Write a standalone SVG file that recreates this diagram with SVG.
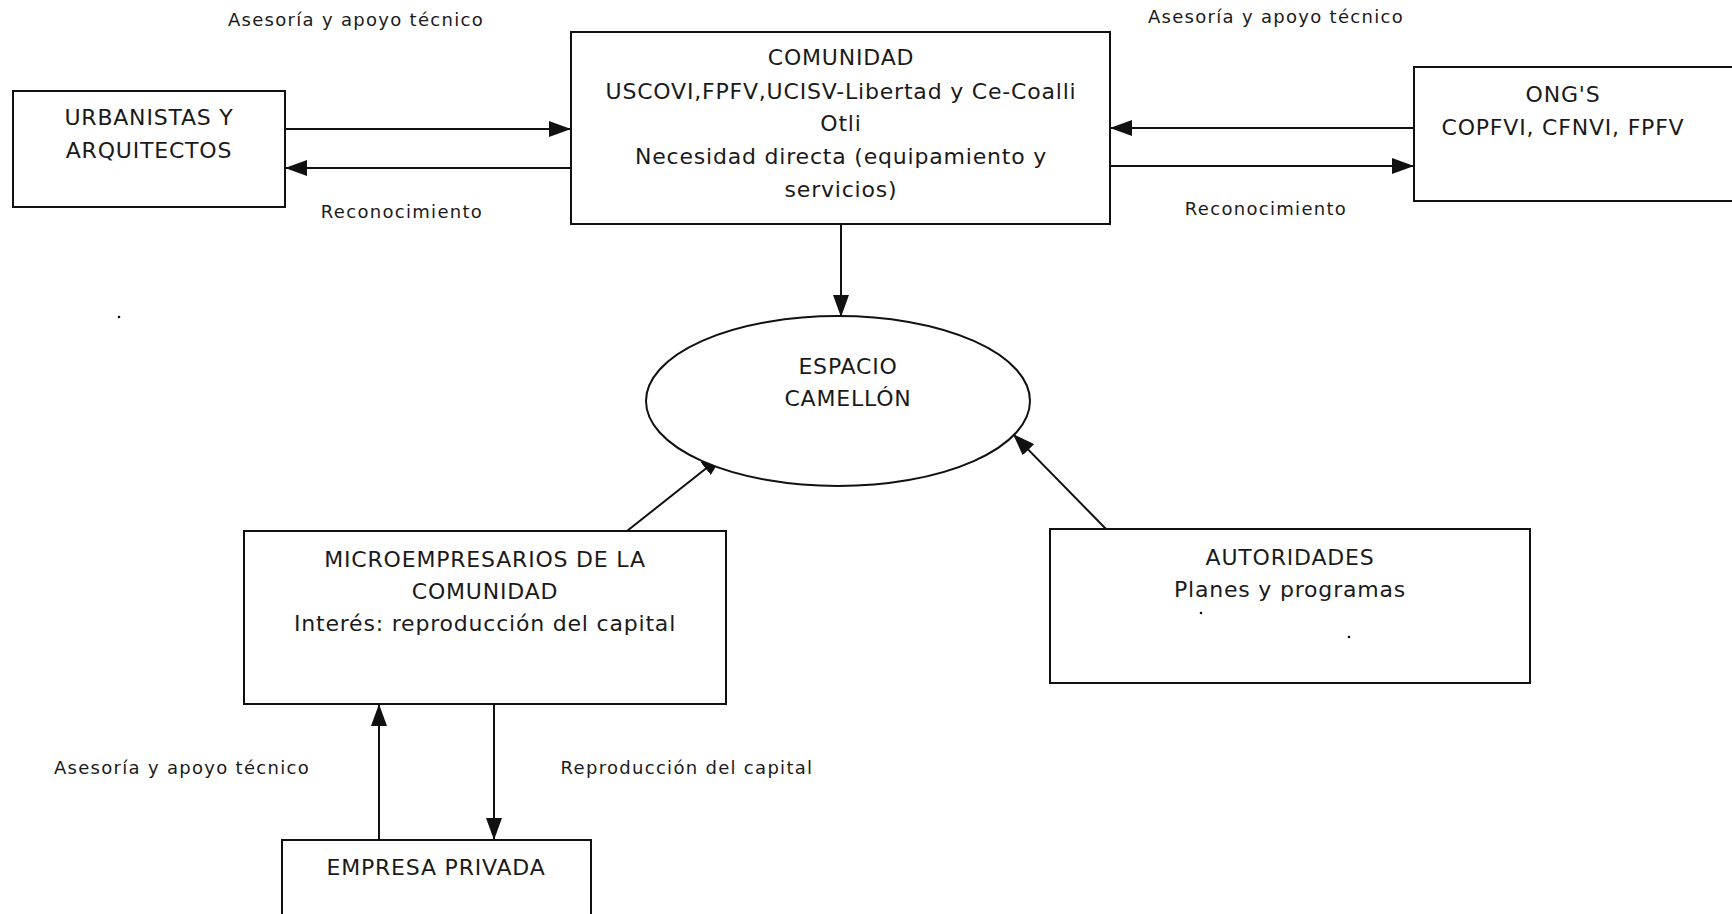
<svg xmlns="http://www.w3.org/2000/svg" width="1732" height="914" viewBox="0 0 1732 914">
<style>
.box{fill:#fff;stroke:#111;stroke-width:2}
.t{font-family:"DejaVu Sans","Liberation Sans",sans-serif;font-size:22px;letter-spacing:0.8px;fill:#1a1a1a;text-anchor:middle}
.l{font-family:"DejaVu Sans","Liberation Sans",sans-serif;font-size:18px;letter-spacing:1.3px;fill:#1a1a1a;text-anchor:middle}
.c{stroke:#111;stroke-width:2;fill:none;marker-end:url(#ah)}
</style>
<defs>
<marker id="ah" viewBox="0 0 22 16" refX="22" refY="8" markerWidth="22" markerHeight="16" markerUnits="userSpaceOnUse" orient="auto">
<path d="M0,0 L22,8 L0,16 Z" fill="#111"/>
</marker>
</defs>
<rect width="1732" height="914" fill="#fff"/>
<g id="connectors">
<line class="c" x1="285" y1="129" x2="571" y2="129"/>
<line class="c" x1="571" y1="168" x2="285" y2="168"/>
<line class="c" x1="1414" y1="128" x2="1110" y2="128"/>
<line class="c" x1="1110" y1="166" x2="1414" y2="166"/>
<line class="c" x1="841" y1="224" x2="841" y2="317"/>
<line class="c" x1="627" y1="531" x2="723" y2="455"/>
<line class="c" x1="1106" y1="529" x2="1013" y2="434"/>
<line class="c" x1="379" y1="840" x2="379" y2="704"/>
<line class="c" x1="494" y1="704" x2="494" y2="840"/>
<text class="l" x="356" y="26">Asesoría y apoyo técnico</text>
<text class="l" x="1276" y="23">Asesoría y apoyo técnico</text>
<text class="l" x="402" y="218">Reconocimiento</text>
<text class="l" x="1266" y="215">Reconocimiento</text>
<text class="l" x="182" y="774">Asesoría y apoyo técnico</text>
<text class="l" x="687" y="774">Reproducción del capital</text>
</g>
<g id="urbanistas">
<rect class="box" x="13" y="91" width="272" height="116"/>
<text class="t" x="149" y="125">URBANISTAS Y</text>
<text class="t" x="149" y="158">ARQUITECTOS</text>
</g>
<g id="comunidad">
<rect class="box" x="571" y="32" width="539" height="192"/>
<text class="t" x="841" y="65">COMUNIDAD</text>
<text class="t" x="841" y="99">USCOVI,FPFV,UCISV-Libertad y Ce-Coalli</text>
<text class="t" x="841" y="131">Otli</text>
<text class="t" x="841" y="164">Necesidad directa (equipamiento y</text>
<text class="t" x="841" y="197">servicios)</text>
</g>
<g id="ongs">
<rect class="box" x="1414" y="67" width="330" height="134"/>
<text class="t" x="1563" y="102">ONG'S</text>
<text class="t" x="1563" y="135">COPFVI, CFNVI, FPFV</text>
</g>
<g id="espacio">
<ellipse class="box" cx="838" cy="401" rx="192" ry="85"/>
<text class="t" x="848" y="374">ESPACIO</text>
<text class="t" x="848" y="406">CAMELLÓN</text>
</g>
<g id="microempresarios">
<rect class="box" x="244" y="531" width="482" height="173"/>
<text class="t" x="485" y="567">MICROEMPRESARIOS DE LA</text>
<text class="t" x="485" y="599">COMUNIDAD</text>
<text class="t" x="485" y="631">Interés: reproducción del capital</text>
</g>
<g id="autoridades">
<rect class="box" x="1050" y="529" width="480" height="154"/>
<text class="t" x="1290" y="565">AUTORIDADES</text>
<text class="t" x="1290" y="597">Planes y programas</text>
<circle cx="1201" cy="613" r="1.3" fill="#111"/>
<circle cx="1349" cy="637" r="1.3" fill="#111"/>
</g>
<g id="empresa">
<rect class="box" x="282" y="840" width="309" height="90"/>
<text class="t" x="436" y="875">EMPRESA PRIVADA</text>
</g>
<circle cx="119" cy="317" r="1.3" fill="#111"/>
</svg>
